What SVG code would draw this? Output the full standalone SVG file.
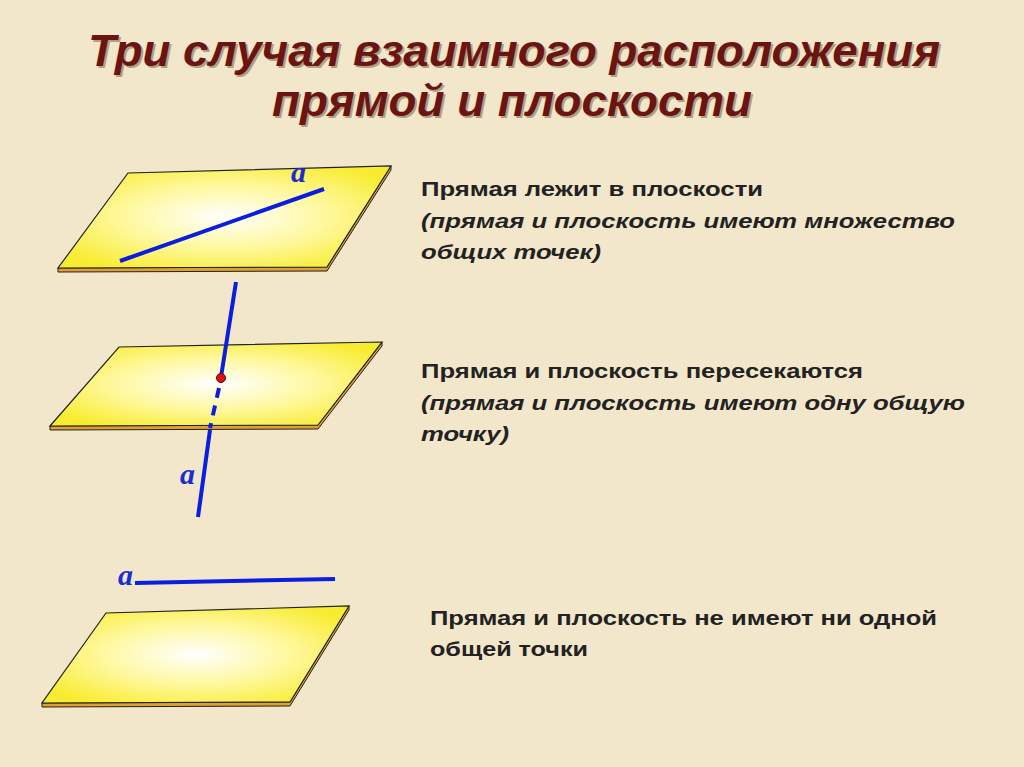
<svg xmlns="http://www.w3.org/2000/svg" width="1024" height="767" viewBox="0 0 1024 767">
<style>
.t{font-family:"Liberation Sans",Arial,sans-serif;font-weight:bold;font-style:italic;font-size:44px;fill:#6b1414}
.ts{font-family:"Liberation Sans",Arial,sans-serif;font-weight:bold;font-style:italic;font-size:44px;fill:#b0a080}
.b{font-family:"Liberation Sans",Arial,sans-serif;font-weight:bold;font-size:21px;fill:#222}
.bi{font-style:italic}
.lab{font-family:"Liberation Serif","Times New Roman",serif;font-weight:bold;font-style:italic;font-size:30px;fill:#1a2ed0}
.pl{fill:url(#g);stroke:#222;stroke-width:1.2}
.ed{fill:#e0a030;stroke:#222;stroke-width:1}
.ln{stroke:#0a1ee0;stroke-width:4;fill:none}
</style>
<defs>
<radialGradient id="g" cx="0.5" cy="0.5" r="0.6">
<stop offset="0" stop-color="#ffffff"/><stop offset="0.5" stop-color="#fff8a0"/><stop offset="1" stop-color="#f8ec30"/>
</radialGradient>
</defs>
<rect width="1024" height="767" fill="#f2e7cb"/>
<text class="ts" x="90" y="68" textLength="852" lengthAdjust="spacingAndGlyphs">Три случая взаимного расположения</text>
<text class="t" x="88" y="66" textLength="852" lengthAdjust="spacingAndGlyphs">Три случая взаимного расположения</text>
<text class="ts" x="274" y="118" textLength="480" lengthAdjust="spacingAndGlyphs">прямой и плоскости</text>
<text class="t" x="272" y="116" textLength="480" lengthAdjust="spacingAndGlyphs">прямой и плоскости</text>
<g id="plane1">
<polygon class="ed" points="58,268 327,267 391,166 391,170 327,271 58,272"/>
<polygon class="pl" points="128,173 391,166 327,267 58,268"/>
</g>
<g id="plane2">
<polygon class="ed" points="50,426 318,425 382,342 382,346 318,429 50,430"/>
<polygon class="pl" points="119,347 382,342 318,425 50,426"/>
</g>
<g id="plane3">
<polygon class="ed" points="42,703 290,702 349,606 349,610 290,706 42,707"/>
<polygon class="pl" points="106,613 349,606 290,702 42,703"/>
</g>
<g id="connectors">
<line class="ln" x1="120" y1="261" x2="324" y2="189"/>
<line class="ln" x1="236" y1="282" x2="221" y2="377"/>
<line class="ln" x1="219" y1="388" x2="210" y2="428" stroke-dasharray="10,8"/>
<line class="ln" x1="210" y1="430" x2="198" y2="517"/>
<circle cx="221" cy="378" r="4.5" fill="#e01010" stroke="#600" stroke-width="1"/>
<line class="ln" x1="135" y1="583" x2="335" y2="579"/>
</g>
<text class="lab" x="291" y="182">a</text>
<text class="lab" x="180" y="484">a</text>
<text class="lab" x="118" y="585">a</text>
<text class="b" x="421" y="196" textLength="342" lengthAdjust="spacingAndGlyphs">Прямая лежит в плоскости</text>
<text class="b bi" x="421" y="228" textLength="534" lengthAdjust="spacingAndGlyphs">(прямая и плоскость имеют множество</text>
<text class="b bi" x="421" y="259" textLength="180" lengthAdjust="spacingAndGlyphs">общих точек)</text>
<text class="b" x="421" y="378" textLength="442" lengthAdjust="spacingAndGlyphs">Прямая и плоскость пересекаются</text>
<text class="b bi" x="421" y="410" textLength="544" lengthAdjust="spacingAndGlyphs">(прямая и плоскость имеют одну общую</text>
<text class="b bi" x="421" y="441" textLength="88" lengthAdjust="spacingAndGlyphs">точку)</text>
<text class="b" x="430" y="625" textLength="507" lengthAdjust="spacingAndGlyphs">Прямая и плоскость не имеют ни одной</text>
<text class="b" x="430" y="656" textLength="158" lengthAdjust="spacingAndGlyphs">общей точки</text>
</svg>
